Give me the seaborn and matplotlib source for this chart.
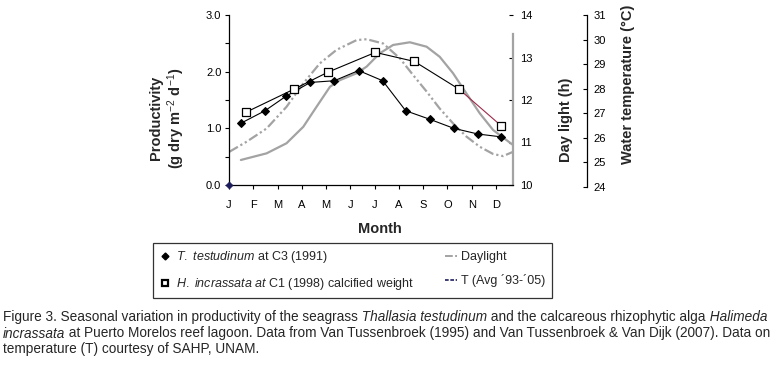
import numpy as np
import pandas as pd
import matplotlib
matplotlib.use("Agg")
import matplotlib.pyplot as plt
import seaborn as sns
from matplotlib.lines import Line2D
from matplotlib import font_manager

# ---------------- data ----------------
months = ["J", "F", "M", "A", "M", "J", "J", "A", "S", "O", "N", "D"]
month_pos = [0, 1, 2, 3, 4, 5, 6, 7, 8, 9, 10, 11]

# T. testudinum at C3 (1991)
tt_x = [0.49, 1.48, 2.36, 3.35, 4.34, 5.34, 6.33, 7.28, 8.27, 9.26, 10.25, 11.20]
tt_y = [1.09, 1.31, 1.57, 1.81, 1.84, 2.02, 1.84, 1.31, 1.16, 1.00, 0.90, 0.85]

# H. incrassata at C1 (1998) calcified weight
hi_x = [0.68, 2.67, 4.07, 6.03, 7.64, 9.48, 11.20]
hi_y = [1.28, 1.69, 1.99, 2.34, 2.18, 1.69, 1.05]

# Daylight (h)
dl_x = [0.01, 0.73, 1.55, 2.37, 3.06, 3.74, 4.43, 5.26, 5.67, 6.35, 7.04, 7.58,
        8.14, 8.68, 9.23, 9.78, 10.33, 10.88, 11.29, 11.70]
dl_y = [10.78, 11.02, 11.33, 11.84, 12.39, 12.86, 13.18, 13.41, 13.43, 13.33, 12.98, 12.59,
        12.20, 11.80, 11.45, 11.14, 10.90, 10.73, 10.68, 10.78]

# Water temperature (°C), T (Avg '93-'05)
wt_x = [0.49, 1.55, 2.37, 3.06, 3.61, 4.16, 4.57, 5.26, 5.67, 6.21, 6.76, 7.45,
        8.14, 8.68, 9.23, 9.78, 10.33, 10.88, 11.70]
wt_y = [25.10, 25.37, 25.78, 26.45, 27.27, 28.08, 28.35, 28.63, 28.90, 29.44, 29.78, 29.89,
        29.71, 29.30, 28.63, 27.81, 27.00, 26.32, 25.71]
wt_marker_x = [0.0]
wt_marker_y = [0.0]

# ---------------- style ----------------
sns.set_style("ticks")
plt.rcParams["font.family"] = ["Liberation Sans", "DejaVu Sans"]
plt.rcParams["mathtext.fontset"] = "custom"
plt.rcParams["mathtext.rm"] = "Liberation Sans"
plt.rcParams["mathtext.it"] = "Liberation Sans:italic"
plt.rcParams["mathtext.bf"] = "Liberation Sans:bold"

W, H = 783, 367
fig = plt.figure(figsize=(W / 100, H / 100), dpi=100)
fig.patch.set_facecolor("white")

L, R, T, B = 229, 513, 15, 185
ax = fig.add_axes([L / W, 1 - B / H, (R - L) / W, (B - T) / H])
ax2 = ax.twinx()
ax3 = fig.add_axes([L / W, 1 - 187 / H, (R - L) / W, 172 / H])

GRAY = "#a3a3a3"
NAVY = "#1c1c5c"

# Daylight curve
sns.lineplot(x=dl_x, y=dl_y, ax=ax2, color=GRAY, lw=1.6, sort=False,
             linestyle=(0, (4.5, 1.3, 1.0, 1.3, 1.0, 1.3)))
ax2.set_ylim(10, 14)

# Temperature curve
sns.lineplot(x=wt_x, y=wt_y, ax=ax3, color=GRAY, lw=1.6, sort=False)
ax3.set_ylim(24, 31)

for a in (ax, ax2, ax3):
    a.set_xlim(0, 11.7)

# productivity series on top
ax.set_zorder(3)
ax.patch.set_visible(False)
ax3.patch.set_visible(False)
ax2.patch.set_visible(False)

sns.lineplot(x=tt_x, y=tt_y, ax=ax, color="black", lw=0.8, marker="D",
             markersize=3.6, markeredgecolor="black", sort=False)
sns.lineplot(x=hi_x[:6], y=hi_y[:6], ax=ax, color="black", lw=0.8, sort=False)
sns.lineplot(x=hi_x[5:], y=hi_y[5:], ax=ax, color="#9c2a4a", lw=0.8, sort=False)
sns.scatterplot(x=hi_x, y=hi_y, ax=ax, marker="s", s=28, facecolor="white",
                edgecolor="black", linewidth=0.9, zorder=5)
sns.scatterplot(x=wt_marker_x, y=wt_marker_y, ax=ax, marker="D", s=14,
                color=NAVY, edgecolor=NAVY, zorder=6, clip_on=False)

# ---------------- axes cosmetics ----------------
ax.set_ylim(0, 3.0)
ax.set_yticks([0, 0.5, 1.0, 1.5, 2.0, 2.5, 3.0])
ax.set_yticklabels(["0.0", "", "1.0", "", "2.0", "", "3.0"])
ax.set_xticks(month_pos)
ax.set_xticklabels(months)
ax.tick_params(axis="y", direction="out", length=3, width=0.8, labelsize=8, pad=2.5, colors="black")
ax.tick_params(axis="x", direction="out", length=3, width=0.8, labelsize=8, pad=8, colors="black")
ax.set_xlabel("")
ax.set_ylabel("")
for s in ("top", "right"):
    ax.spines[s].set_visible(False)
for s in ("left", "bottom"):
    ax.spines[s].set_color("black")
    ax.spines[s].set_linewidth(0.9)

# daylight axis
for s in ("top", "left", "bottom"):
    ax2.spines[s].set_visible(False)
ax2.spines["right"].set_color(GRAY)
ax2.spines["right"].set_linewidth(1.6)
ax2.spines["right"].set_bounds(10, 13.55)
ax2.set_yticks([10, 11, 12, 13, 14])
ax2.tick_params(axis="y", direction="in", length=3, width=0.8, labelsize=8, pad=5, colors="black")
ax2.set_ylabel("")

# temperature axis
ax3.set_xticks([])
ax3.set_xlabel("")
ax3.set_ylabel("")
for s in ("top", "left", "bottom"):
    ax3.spines[s].set_visible(False)
ax3.yaxis.tick_right()
ax3.spines["right"].set_position(("axes", (587 - L) / (R - L)))
ax3.spines["right"].set_color("black")
ax3.spines["right"].set_linewidth(0.9)
ax3.set_yticks([24, 25, 26, 27, 28, 29, 30, 31])
ax3.tick_params(axis="y", direction="in", length=3, width=0.8, labelsize=8, pad=4.5, colors="black")

# axis titles
fig.text(168 / W, 1 - 118 / H, "Productivity\n(g dry m$^{-2}$ d$^{-1}$)", rotation=90,
         ha="center", va="center", fontsize=10.5, fontweight="bold", multialignment="center")
fig.text(380 / W, 1 - 229 / H, "Month", ha="center", va="center", fontsize=10.5, fontweight="bold")
fig.text(566 / W, 1 - 120 / H, "Day light (h)", rotation=90, ha="center", va="center",
         fontsize=10.5, fontweight="bold")
fig.text(628 / W, 1 - 84 / H, "Water temperature (°C)", rotation=90, ha="center", va="center",
         fontsize=10.5, fontweight="bold")

# ---------------- legend ----------------
handles = [
    Line2D([], [], color="black", marker="D", markersize=3.5, linestyle="none"),
    Line2D([], [], color="black", marker="s", markersize=5, markerfacecolor="white",
           markeredgewidth=1.6, linestyle="none"),
    Line2D([], [], color=GRAY, lw=1.4, linestyle=(0, (4, 1.2, 1, 1.2))),
    Line2D([], [], color=NAVY, lw=1.2, linestyle=(0, (2.2, 1.0, 2.2, 1.0, 1, 1.0))),
]
labels = [
    r"$\it{T.}$ $\it{testudinum}$ at C3 (1991)",
    r"$\it{H.}$ $\it{incrassata}$ $\it{at}$ C1 (1998) calcified weight",
    "Daylight",
    "T (Avg \u00b493-\u00b405)",
]
leg = fig.legend(handles, labels, ncol=2, loc="upper left",
                 bbox_to_anchor=(153 / W, 1 - 243 / H), borderaxespad=0,
                 fontsize=9, frameon=True, fancybox=False, edgecolor="black",
                 handlelength=0.95, handletextpad=0.35, columnspacing=2.5,
                 labelspacing=0.85, borderpad=0.5)
leg.get_frame().set_linewidth(0.9)

# ---------------- caption ----------------
names = {f.name for f in font_manager.fontManager.ttflist}
if "Liberation Sans Narrow" in names:
    cap_family, cap_size = "Liberation Sans Narrow", 9.3
else:
    cap_family, cap_size = "Liberation Sans", 9.8

cap_ax = fig.add_axes([0, 0, 1, 1])
cap_ax.set_axis_off()
cap_ax.set_zorder(-1)

caption_lines = [
    [("Figure 3. Seasonal variation in productivity of the seagrass", "normal"),
     (" Thallasia testudinum", "italic"),
     (" and the calcareous rhizophytic alga", "normal"),
     (" Halimeda", "italic")],
    [("incrassata", "italic"),
     (" at Puerto Morelos reef lagoon. Data from Van Tussenbroek (1995) and Van Tussenbroek & Van Dijk (2007). Data on", "normal")],
    [("temperature (T) courtesy of SAHP, UNAM.", "normal")],
]
baselines = [321, 337.5, 353.5]
for segs, base in zip(caption_lines, baselines):
    prev = None
    for txt, style in segs:
        if prev is None:
            prev = cap_ax.text(3 / W, 1 - base / H, txt, transform=fig.transFigure,
                               ha="left", va="baseline", fontsize=cap_size,
                               family=cap_family, style=style)
        else:
            prev = cap_ax.annotate(txt, xy=(1, 0), xycoords=prev, ha="left", va="bottom",
                                   fontsize=cap_size, family=cap_family, style=style)

fig.savefig("out.png", dpi=100, facecolor="white")
